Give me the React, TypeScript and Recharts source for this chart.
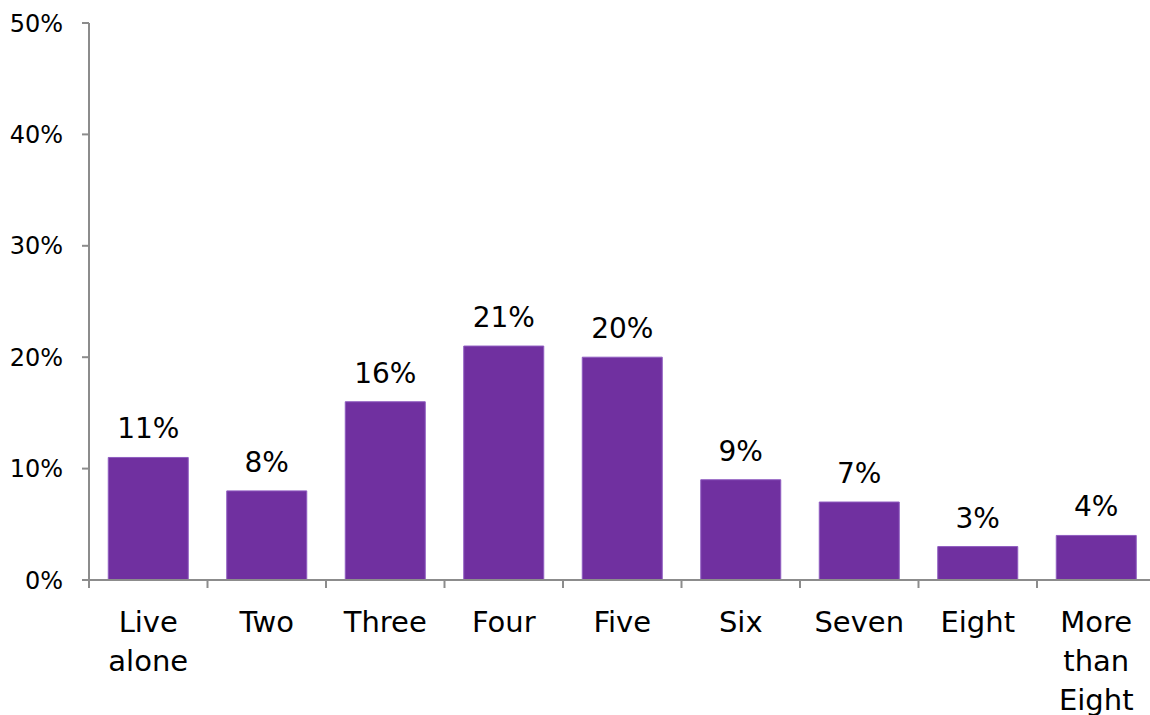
import { BarChart, Bar, XAxis, YAxis, LabelList } from 'recharts';

// household size distribution
const categories = ['Live alone', 'Two', 'Three', 'Four', 'Five', 'Six', 'Seven', 'Eight', 'More than Eight'];
const shares = [11, 8, 16, 21, 20, 9, 7, 3, 4];
const yTicks = [0, 10, 20, 30, 40, 50];

const data = categories.map((name, i) => ({ name, value: shares[i] }));

const CHART_W = 1160;
const CHART_H = 715;
const Y_W = 89;
const RIGHT = 4.5;
const X_H = 135;
const FONT = '"DejaVu Sans", sans-serif';
const AXIS = '#8c8c8c';
const BAND = (CHART_W - Y_W - RIGHT) / categories.length;

function CategoryTick(props: any) {
  const { x, y, payload } = props;
  const words = String(payload.value).split(' ');
  const left = x - BAND / 2;
  return (
    <g>
      <line x1={left} y1={y} x2={left} y2={y + 8} stroke={AXIS} strokeWidth={2} />
      <text x={x} y={y + 52} textAnchor="middle" fontSize={29} fontFamily={FONT} fill="#000">
        {words.map((w, i) => (
          <tspan key={i} x={x} dy={i === 0 ? 0 : 39}>
            {w}
          </tspan>
        ))}
      </text>
    </g>
  );
}

export default function App() {
  return (
    <div style={{ position: 'absolute', left: 0, top: 0, width: 1150, height: 715, overflow: 'hidden', background: '#fff' }}>
      <BarChart
        width={CHART_W}
        height={CHART_H}
        data={data}
        margin={{ top: 23, right: RIGHT, bottom: 0, left: 0 }}
        barCategoryGap={19.25}
      >
        <XAxis
          dataKey="name"
          height={X_H}
          interval={0}
          tickLine={false}
          tickSize={0}
          tickMargin={0}
          axisLine={{ stroke: AXIS, strokeWidth: 2 }}
          tick={<CategoryTick />}
        />
        <YAxis
          width={Y_W}
          domain={[0, 50]}
          ticks={yTicks}
          interval={0}
          tickFormatter={(v: number) => `${v}%`}
          tickSize={7}
          tickMargin={19}
          axisLine={{ stroke: AXIS, strokeWidth: 2 }}
          tickLine={{ stroke: AXIS, strokeWidth: 2 }}
          tick={{ fill: '#000', fontSize: 24, fontFamily: FONT }}
        />
        <Bar dataKey="value" fill="#7030A0" stroke="#8f5cc0" strokeWidth={1} isAnimationActive={false}>
          <LabelList
            dataKey="value"
            position="top"
            offset={19}
            formatter={(v: any) => `${v}%`}
            style={{ fill: '#000', fontSize: 28, fontFamily: FONT }}
          />
        </Bar>
      </BarChart>
    </div>
  );
}
